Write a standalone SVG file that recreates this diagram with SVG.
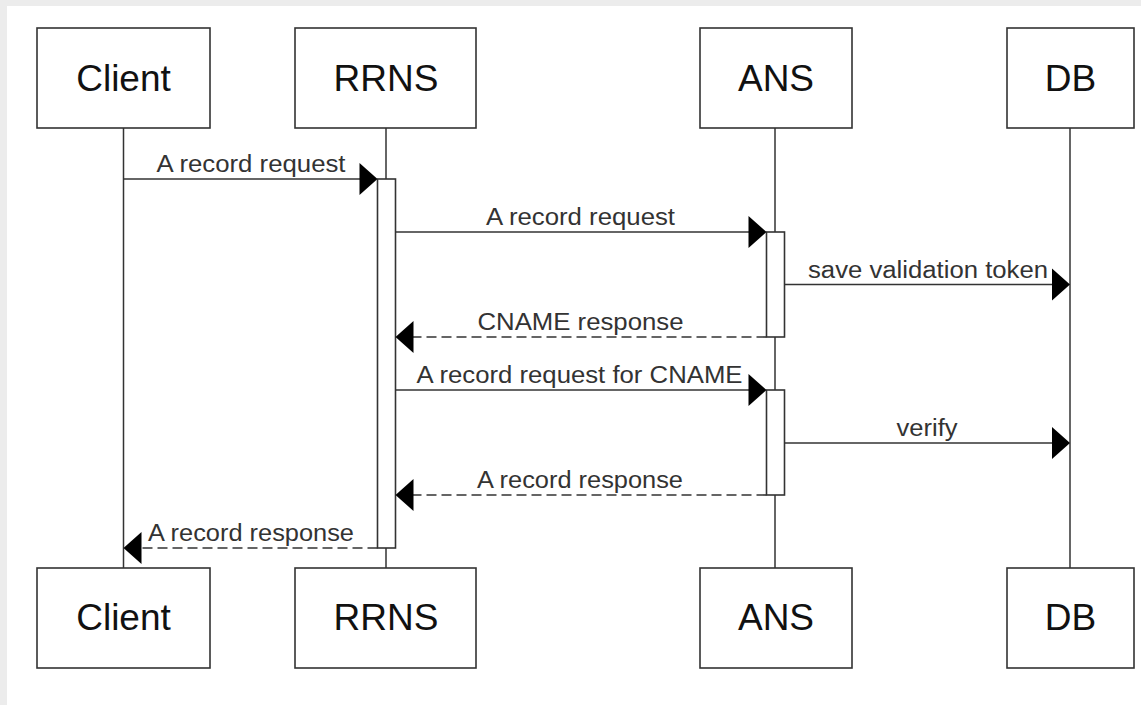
<svg xmlns="http://www.w3.org/2000/svg" width="1141" height="705" viewBox="0 0 1141 705">
  <style>
    .actor rect { fill: #ffffff; stroke: #333333; stroke-width: 1.6; }
    .actor text { font-family: "Liberation Sans", Arial, sans-serif; font-size: 37px; fill: #111111; text-anchor: middle; }
    .life { stroke: #333333; stroke-width: 1.5; fill: none; }
    .act { fill: #ffffff; stroke: #333333; stroke-width: 1.6; }
    .msg { stroke: #333333; stroke-width: 1.6; fill: none; }
    .dash { stroke-dasharray: 10 5; }
    .head { fill: #000000; stroke: none; }
    .lbl { font-family: "Liberation Sans", Arial, sans-serif; font-size: 23px; fill: #333333; text-anchor: middle; }
  </style>
  <rect x="0" y="0" width="1141" height="705" fill="#ececec"/>
  <rect x="7" y="6" width="1134" height="699" fill="#ffffff"/>

  <g id="lifelines">
    <line class="life" x1="123.5" y1="128" x2="123.5" y2="568"/>
    <line class="life" x1="386" y1="128" x2="386" y2="568"/>
    <line class="life" x1="775" y1="128" x2="775" y2="568"/>
    <line class="life" x1="1070" y1="128" x2="1070" y2="568"/>
  </g>

  <g id="actor-client-top" class="actor"><rect x="37" y="28" width="173" height="100"/><text x="123.5" y="91">Client</text></g>
  <g id="actor-rrns-top" class="actor"><rect x="295" y="28" width="181" height="100"/><text x="386" y="91">RRNS</text></g>
  <g id="actor-ans-top" class="actor"><rect x="700" y="28" width="152" height="100"/><text x="776" y="91">ANS</text></g>
  <g id="actor-db-top" class="actor"><rect x="1007" y="28" width="127" height="100"/><text x="1070.5" y="91">DB</text></g>

  <g id="actor-client-bottom" class="actor"><rect x="37" y="568" width="173" height="100"/><text x="123.5" y="630">Client</text></g>
  <g id="actor-rrns-bottom" class="actor"><rect x="295" y="568" width="181" height="100"/><text x="386" y="630">RRNS</text></g>
  <g id="actor-ans-bottom" class="actor"><rect x="700" y="568" width="152" height="100"/><text x="776" y="630">ANS</text></g>
  <g id="actor-db-bottom" class="actor"><rect x="1007" y="568" width="127" height="100"/><text x="1070.5" y="630">DB</text></g>

  <g id="activations">
    <rect class="act" x="377.5" y="179" width="18" height="369"/>
    <rect class="act" x="766.5" y="232" width="18" height="105"/>
    <rect class="act" x="766.5" y="390" width="18" height="105"/>
  </g>

  <g id="connectors">
    <line class="msg" x1="123.5" y1="179" x2="362" y2="179"/>
    <polygon class="head" points="377.5,179 359.5,163 359.5,195"/>
    <text class="lbl" x="251" y="172" textLength="189" lengthAdjust="spacingAndGlyphs">A record request</text>

    <line class="msg" x1="395.5" y1="232" x2="752" y2="232"/>
    <polygon class="head" points="766.5,232 748.5,216 748.5,248"/>
    <text class="lbl" x="580.5" y="225" textLength="189" lengthAdjust="spacingAndGlyphs">A record request</text>

    <line class="msg" x1="784.5" y1="284.5" x2="1055" y2="284.5"/>
    <polygon class="head" points="1070,284.5 1052,268.5 1052,300.5"/>
    <text class="lbl" x="928" y="277.5" textLength="240" lengthAdjust="spacingAndGlyphs">save validation token</text>

    <line class="msg dash" x1="766.5" y1="337" x2="410" y2="337"/>
    <polygon class="head" points="395.5,337 413.5,321 413.5,353"/>
    <text class="lbl" x="580.5" y="330" textLength="206" lengthAdjust="spacingAndGlyphs">CNAME response</text>

    <line class="msg" x1="395.5" y1="390" x2="752" y2="390"/>
    <polygon class="head" points="766.5,390 748.5,374 748.5,406"/>
    <text class="lbl" x="579.5" y="383" textLength="326" lengthAdjust="spacingAndGlyphs">A record request for CNAME</text>

    <line class="msg" x1="784.5" y1="443" x2="1055" y2="443"/>
    <polygon class="head" points="1070,443 1052,427 1052,459"/>
    <text class="lbl" x="927" y="436" textLength="61" lengthAdjust="spacingAndGlyphs">verify</text>

    <line class="msg dash" x1="766.5" y1="495" x2="410" y2="495"/>
    <polygon class="head" points="395.5,495 413.5,479 413.5,511"/>
    <text class="lbl" x="580" y="488" textLength="206" lengthAdjust="spacingAndGlyphs">A record response</text>

    <line class="msg dash" x1="377.5" y1="548" x2="138" y2="548"/>
    <polygon class="head" points="123.5,548 141.5,532 141.5,564"/>
    <text class="lbl" x="251" y="541" textLength="206" lengthAdjust="spacingAndGlyphs">A record response</text>
  </g>
</svg>
